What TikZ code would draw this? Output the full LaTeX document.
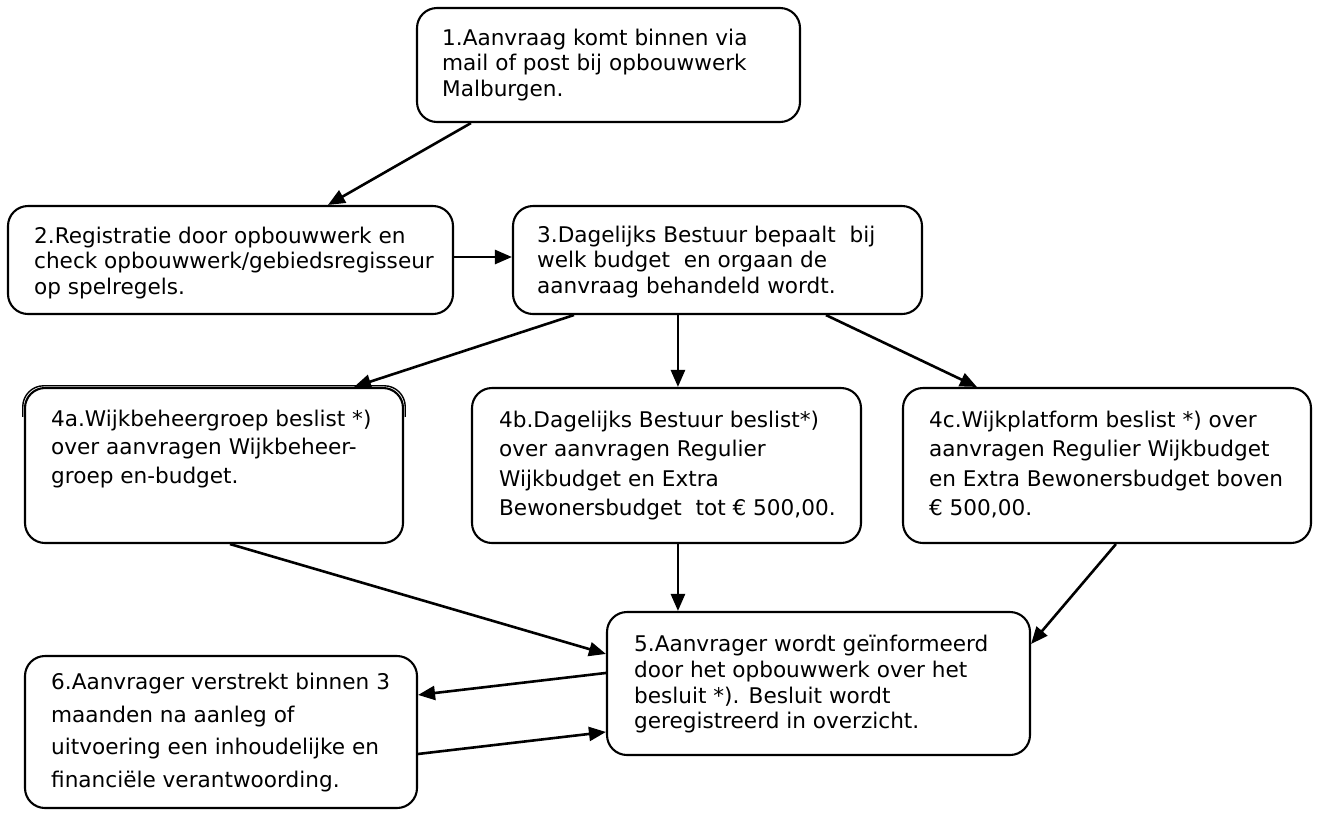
\documentclass[tikz,border=0pt]{standalone}
\usepackage{fontspec}
\setmainfont{DejaVu Sans}
\usetikzlibrary{arrows.meta,calc,fit}
\newcommand{\tsA}{\rule{0pt}{16pt}}
\newcommand{\tsZ}{\rule[-5pt]{0pt}{1pt}}
\begin{document}
\begin{tikzpicture}[x=1pt,y=-1pt,
  box/.style={draw=black,line width=2.1pt,rounded corners=20pt,inner sep=0pt},
  txt/.style={anchor=west,inner sep=0pt,align=left,font=\fontsize{21.6}{#1}\selectfont},
  arr/.style={draw=black,line width=2.6pt,-{Triangle[length=17pt,width=14pt]}}]
\useasboundingbox (0,0) rectangle (1319,812);
% boxes
\node[box,fit={(417,8)(800,122)}] (b1) {};
\node[box,fit={(8,206)(453,314)}] (b2) {};
\node[box,fit={(513,206)(922,314)}] (b3) {};
\node[box,fit={(25,388)(403,543)}] (b4a) {};
\node[box,fit={(472,388)(861,543)}] (b4b) {};
\node[box,fit={(903,388)(1311,543)}] (b4c) {};
\node[box,fit={(607,612)(1030,755)}] (b5) {};
\node[box,fit={(25,656)(417,808)}] (b6) {};
% doubled top edge of 4a
\draw[line width=1.4pt,rounded corners=21pt] ($(b4a.north west)+(-1.2,30)$) -- ($(b4a.north west)+(-1.2,-1.2)$) -- ($(b4a.north east)+(1.2,-1.2)$) -- ($(b4a.north east)+(1.2,30)$);
% texts
\node[txt=25.5] (t1) at ($(b1.west)+(26,0)$) {\tsA 1.Aanvraag komt binnen via\\ mail of post bij opbouwwerk\\ Malburgen.\tsZ};
\node[txt=25.5] (t2) at ($(b2.west)+(27,3)$) {\tsA 2.Registratie door opbouwwerk en\\ check opbouwwerk/gebiedsregisseur\\ op spelregels.\tsZ};
\node[txt=25.5] (t3) at ($(b3.west)+(25,2)$) {\tsA 3.Dagelijks Bestuur bepaalt\ \ bij\\ welk budget\ \ en orgaan de\\ aanvraag behandeld wordt.\tsZ};
\node[txt=28.5] (t4a) at ($(b4a.north west)+(27,62)$) {\tsA 4a.Wijkbeheergroep beslist *)\\ over aanvragen Wijkbeheer-\\ groep en-budget.\tsZ};
\node[txt=29.5] (t4b) at ($(b4b.west)+(28,0.5)$) {\tsA 4b.Dagelijks Bestuur beslist*)\\ over aanvragen Regulier\\ Wijkbudget en Extra\\ Bewonersbudget\ \ tot € 500,00.\tsZ};
\node[txt=29.5] (t4c) at ($(b4c.west)+(27,0.5)$) {\tsA 4c.Wijkplatform beslist *) over\\ aanvragen Regulier Wijkbudget\\ en Extra Bewonersbudget boven\\ € 500,00.\tsZ};
\node[txt=25.7] (t5) at ($(b5.north west)+(28,73.5)$) {\tsA 5.Aanvrager wordt geïnformeerd\\ door het opbouwwerk over het\\ besluit *). Besluit wordt\\ geregistreerd in overzicht.\tsZ};
\node[txt=32.5] (t6) at ($(b6.north west)+(27,78)$) {\tsA 6.Aanvrager verstrekt binnen 3\\ maanden na aanleg of\\ uitvoering een inhoudelijke en\\ financiële verantwoording.\tsZ};
% connectors
\draw[arr] ($(b1.south west)+(55,0)$) -- ($(b2.north west)+(321,0)$);
\draw[arr] ($(b2.east)+(0,-3)$) -- ($(b3.west)+(0,-3)$);
\draw[arr] ($(b3.south west)+(62,0)$) -- ($(b4a.north west)+(330,0)$);
\draw[arr] ($(b3.south west)+(166,0)$) -- ($(b4b.north west)+(207,0)$);
\draw[arr] ($(b3.south west)+(314,0)$) -- ($(b4c.north west)+(75,0)$);
\draw[arr] ($(b4a.south west)+(206,0)$) -- ($(b5.north west)+(0,43)$);
\draw[arr] ($(b4b.south west)+(207,0)$) -- ($(b5.north west)+(72,0)$);
\draw[arr] ($(b4c.south west)+(214,0)$) -- ($(b5.north east)+(0,33)$);
\draw[arr] ($(b5.north west)+(0,62)$) -- ($(b6.north east)+(0,40)$);
\draw[arr] ($(b6.north east)+(0,99)$) -- ($(b5.north west)+(0,121)$);
\end{tikzpicture}
\end{document}
